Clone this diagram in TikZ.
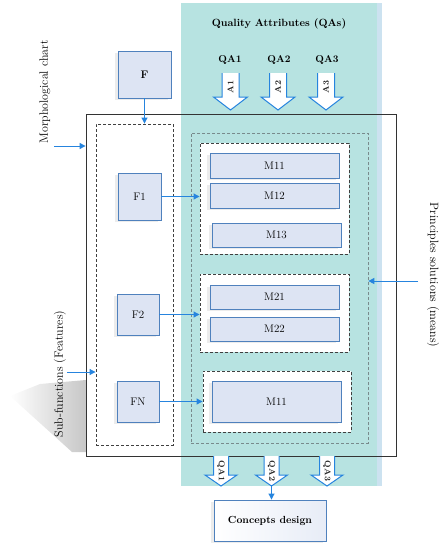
\documentclass[tikz,border=0pt]{standalone}
\usetikzlibrary{arrows.meta,shadows}
\definecolor{qateal}{RGB}{183,227,225}
\definecolor{qastrip}{RGB}{204,226,240}
\definecolor{boxfill}{RGB}{221,228,243}
\definecolor{boxline}{RGB}{79,129,189}
\definecolor{arrblue}{RGB}{38,132,222}
\definecolor{meansline}{RGB}{120,138,140}

\begin{document}
\begin{tikzpicture}[x=1pt,y=-1pt]
\tikzset{
  mbox/.style={draw=boxline, fill=boxfill, line width=0.9pt, inner sep=0pt,
    font=\fontsize{11}{13}\selectfont,
    drop shadow={shadow xshift=-3pt, shadow yshift=-2pt, opacity=0.15}},
  grp/.style={draw=black!75, fill=white, line width=0.9pt, dash pattern=on 3pt off 2pt, inner sep=0pt},
  side/.style={font=\fontsize{12}{14}\selectfont, inner sep=0pt},
  link/.style={draw=arrblue, line width=1pt, -{Triangle[length=6pt,width=6pt]}},
  qatext/.style={inner sep=0.6pt, fill=white, text=black!85, font=\fontsize{8.5}{9}\selectfont\bfseries},
  qain/.pic={
    \filldraw[draw=arrblue, fill=white, line width=1pt]
      (-8.5,0) -- (-8.5,24) -- (-17,24) -- (0,37) -- (17,24) -- (8.5,24) -- (8.5,0);
    \node[qatext, rotate=90] (-lbl) at (0,14) {#1};
    \coordinate (-tip) at (0,37);
  },
  qaout/.pic={
    \filldraw[draw=arrblue, fill=white, line width=1pt]
      (-7.5,0) -- (-7.5,19) -- (-16,19) -- (0,30) -- (16,19) -- (7.5,19) -- (7.5,0);
    \node[qatext, rotate=-90] (-lbl) at (0,15) {#1};
    \coordinate (-tip) at (0,30);
  }
}
\useasboundingbox (0,0) rectangle (441,550);

% quality attributes band
\fill[qateal] (181,3) rectangle (377,486);
\fill[qastrip] (377,3) rectangle (382,486);
\shade[left color=white, right color=black!40, opacity=0.55]
  (86,380) -- (40,384) -- (10,396) -- (72,452) -- (86,452) -- cycle;

\node[draw=black!80, line width=0.8pt, minimum width=310, minimum height=342] (chart) at (241,285) {};
\node[grp, fill=none, minimum width=77, minimum height=321] (feat) at (134.5,284.5) {};
\node[grp, fill=none, draw=meansline, line width=0.7pt, minimum width=177, minimum height=310] (means) at (279.5,288) {};

\node[grp, minimum width=149, minimum height=111] (g1) at (274.5,198.5) {};
\node[grp, minimum width=149, minimum height=78] (g2) at (274.5,313) {};
\node[grp, minimum width=148, minimum height=61] (g3) at (277,401.5) {};

\node[mbox, minimum width=53, minimum height=47] (F) at (144.5,74.5) {\textbf{F}};
\node[mbox, minimum width=43, minimum height=47] (F1) at (139.5,196.5) {F1};
\node[mbox, minimum width=42, minimum height=41] (F2) at (138,314.5) {F2};
\node[mbox, minimum width=42, minimum height=41] (FN) at (138,401.5) {FN};

\node[mbox, minimum width=129, minimum height=25] (M11) at (274.5,165.5) {M11};
\node[mbox, minimum width=129, minimum height=25] (M12) at (274.5,195.5) {M12};
\node[mbox, minimum width=129, minimum height=24] (M13) at (276.5,235) {M13};
\node[mbox, minimum width=129, minimum height=24] (M21) at (274.5,297) {M21};
\node[mbox, minimum width=129, minimum height=24] (M22) at (274.5,329) {M22};
\node[mbox, minimum width=129, minimum height=41] (M31) at (276.5,401.5) {M11};

\node[mbox, minimum width=112, minimum height=41, left color=white, right color=boxfill!70,
  font=\fontsize{10.3}{12}\selectfont\bfseries] (concept) at (270,520.5) {Concepts design};

\node[inner sep=0pt, font=\fontsize{10.5}{12}\selectfont\bfseries] (title) at (279,24) {Quality Attributes (QAs)};
\node[inner sep=0pt, font=\fontsize{10}{12}\selectfont\bfseries] (qa1) at (230,60) {QA1};
\node[inner sep=0pt, font=\fontsize{10}{12}\selectfont\bfseries] (qa2) at (279,60) {QA2};
\node[inner sep=0pt, font=\fontsize{10}{12}\selectfont\bfseries] (qa3) at (327,60) {QA3};

\pic (qi1) at (230.5,73) {qain=A1};
\pic (qi2) at (278,73) {qain=A2};
\pic (qi3) at (326,73) {qain=A3};
\pic (qo1) at (221,456) {qaout=QA1};
\pic (qo2) at (271.5,456) {qaout=QA2};
\pic (qo3) at (327,456) {qaout=QA3};

\node[side, rotate=90] (morph) at (45,92) {Morphological chart};
\node[side, rotate=90] (subf) at (60,374) {Sub-functions (Features)};
\node[side, rotate=-90] (princ) at (433,275) {Principles solutions (means)};

\coordinate (ms) at (54,146);
\coordinate (ss) at (67,372);
\coordinate (ps) at (418,281);

\draw[link] (ms) -- (ms -| chart.west);
\draw[link] (ss) -- (ss -| feat.west);
\draw[link] (ps) -- (ps -| means.east);
\draw[link] (F.south) -- (F.south |- feat.north);
\draw[link] (F1.east) -- (F1.east -| g1.west);
\draw[link] (F2.east) -- (F2.east -| g2.west);
\draw[link] (FN.east) -- (FN.east -| g3.west);
\draw[link] (qo2-tip) -- (qo2-tip |- concept.north);
\end{tikzpicture}
\end{document}
